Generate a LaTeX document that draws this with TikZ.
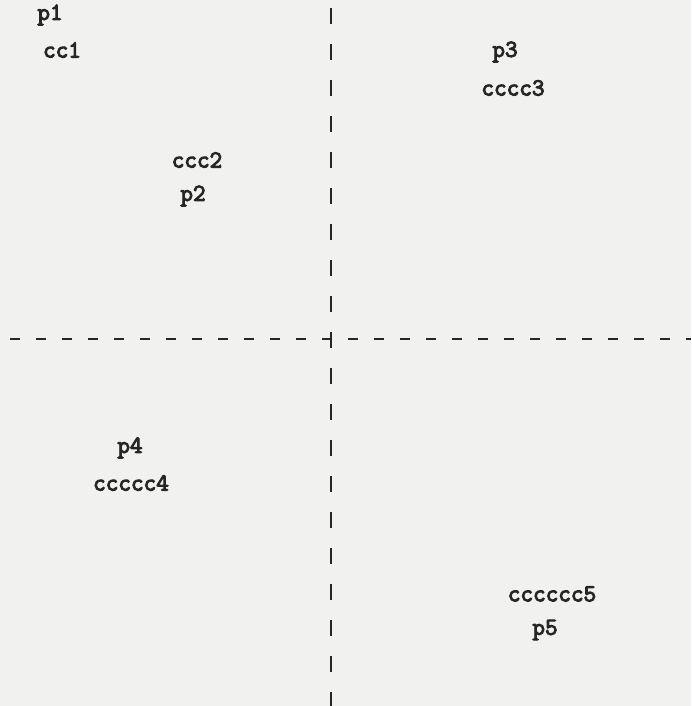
\documentclass[tikz,border=0pt]{standalone}
\usepackage{fontspec}
\newfontfamily\courish[FakeBold=4]{Latin Modern Mono}
\definecolor{paper}{HTML}{F1F1EF}
\definecolor{ink}{HTML}{262626}
\begin{document}
\begin{tikzpicture}[x=1pt,y=-1pt,
  lbl/.style={inner sep=0pt,text=ink,font=\courish\fontsize{24.5}{26}\selectfont},
  hdash/.style={draw=ink,line width=2.6pt,dash pattern=on 10pt off 16pt},
  vdash/.style={draw=ink,line width=2.6pt,dash pattern=on 16pt off 20pt}]
\fill[paper] (0,0) rectangle (691,706);
\useasboundingbox (0,0) rectangle (691,706);
\coordinate (hl) at (10,339);
\coordinate (hr) at (691,339);
\coordinate (vt) at (331,8);
\coordinate (vb) at (331,706);
\draw[hdash] (hl) -- (hr);
\draw[vdash] (vt) -- (vb);
\node[lbl] (p1) at (50,15) {p1};
\node[lbl] (cc1) at (62,50) {cc1};
\node[lbl] (ccc2) at (197,160) {ccc2};
\node[lbl] (p2) at (193,196) {p2};
\node[lbl] (p3) at (505,52) {p3};
\node[lbl] (cccc3) at (513,88) {cccc3};
\node[lbl] (p4) at (130,448) {p4};
\node[lbl] (ccccc4) at (131,483) {ccccc4};
\node[lbl] (cccccc5) at (552,594) {cccccc5};
\node[lbl] (p5) at (545,630) {p5};
\end{tikzpicture}
\end{document}
